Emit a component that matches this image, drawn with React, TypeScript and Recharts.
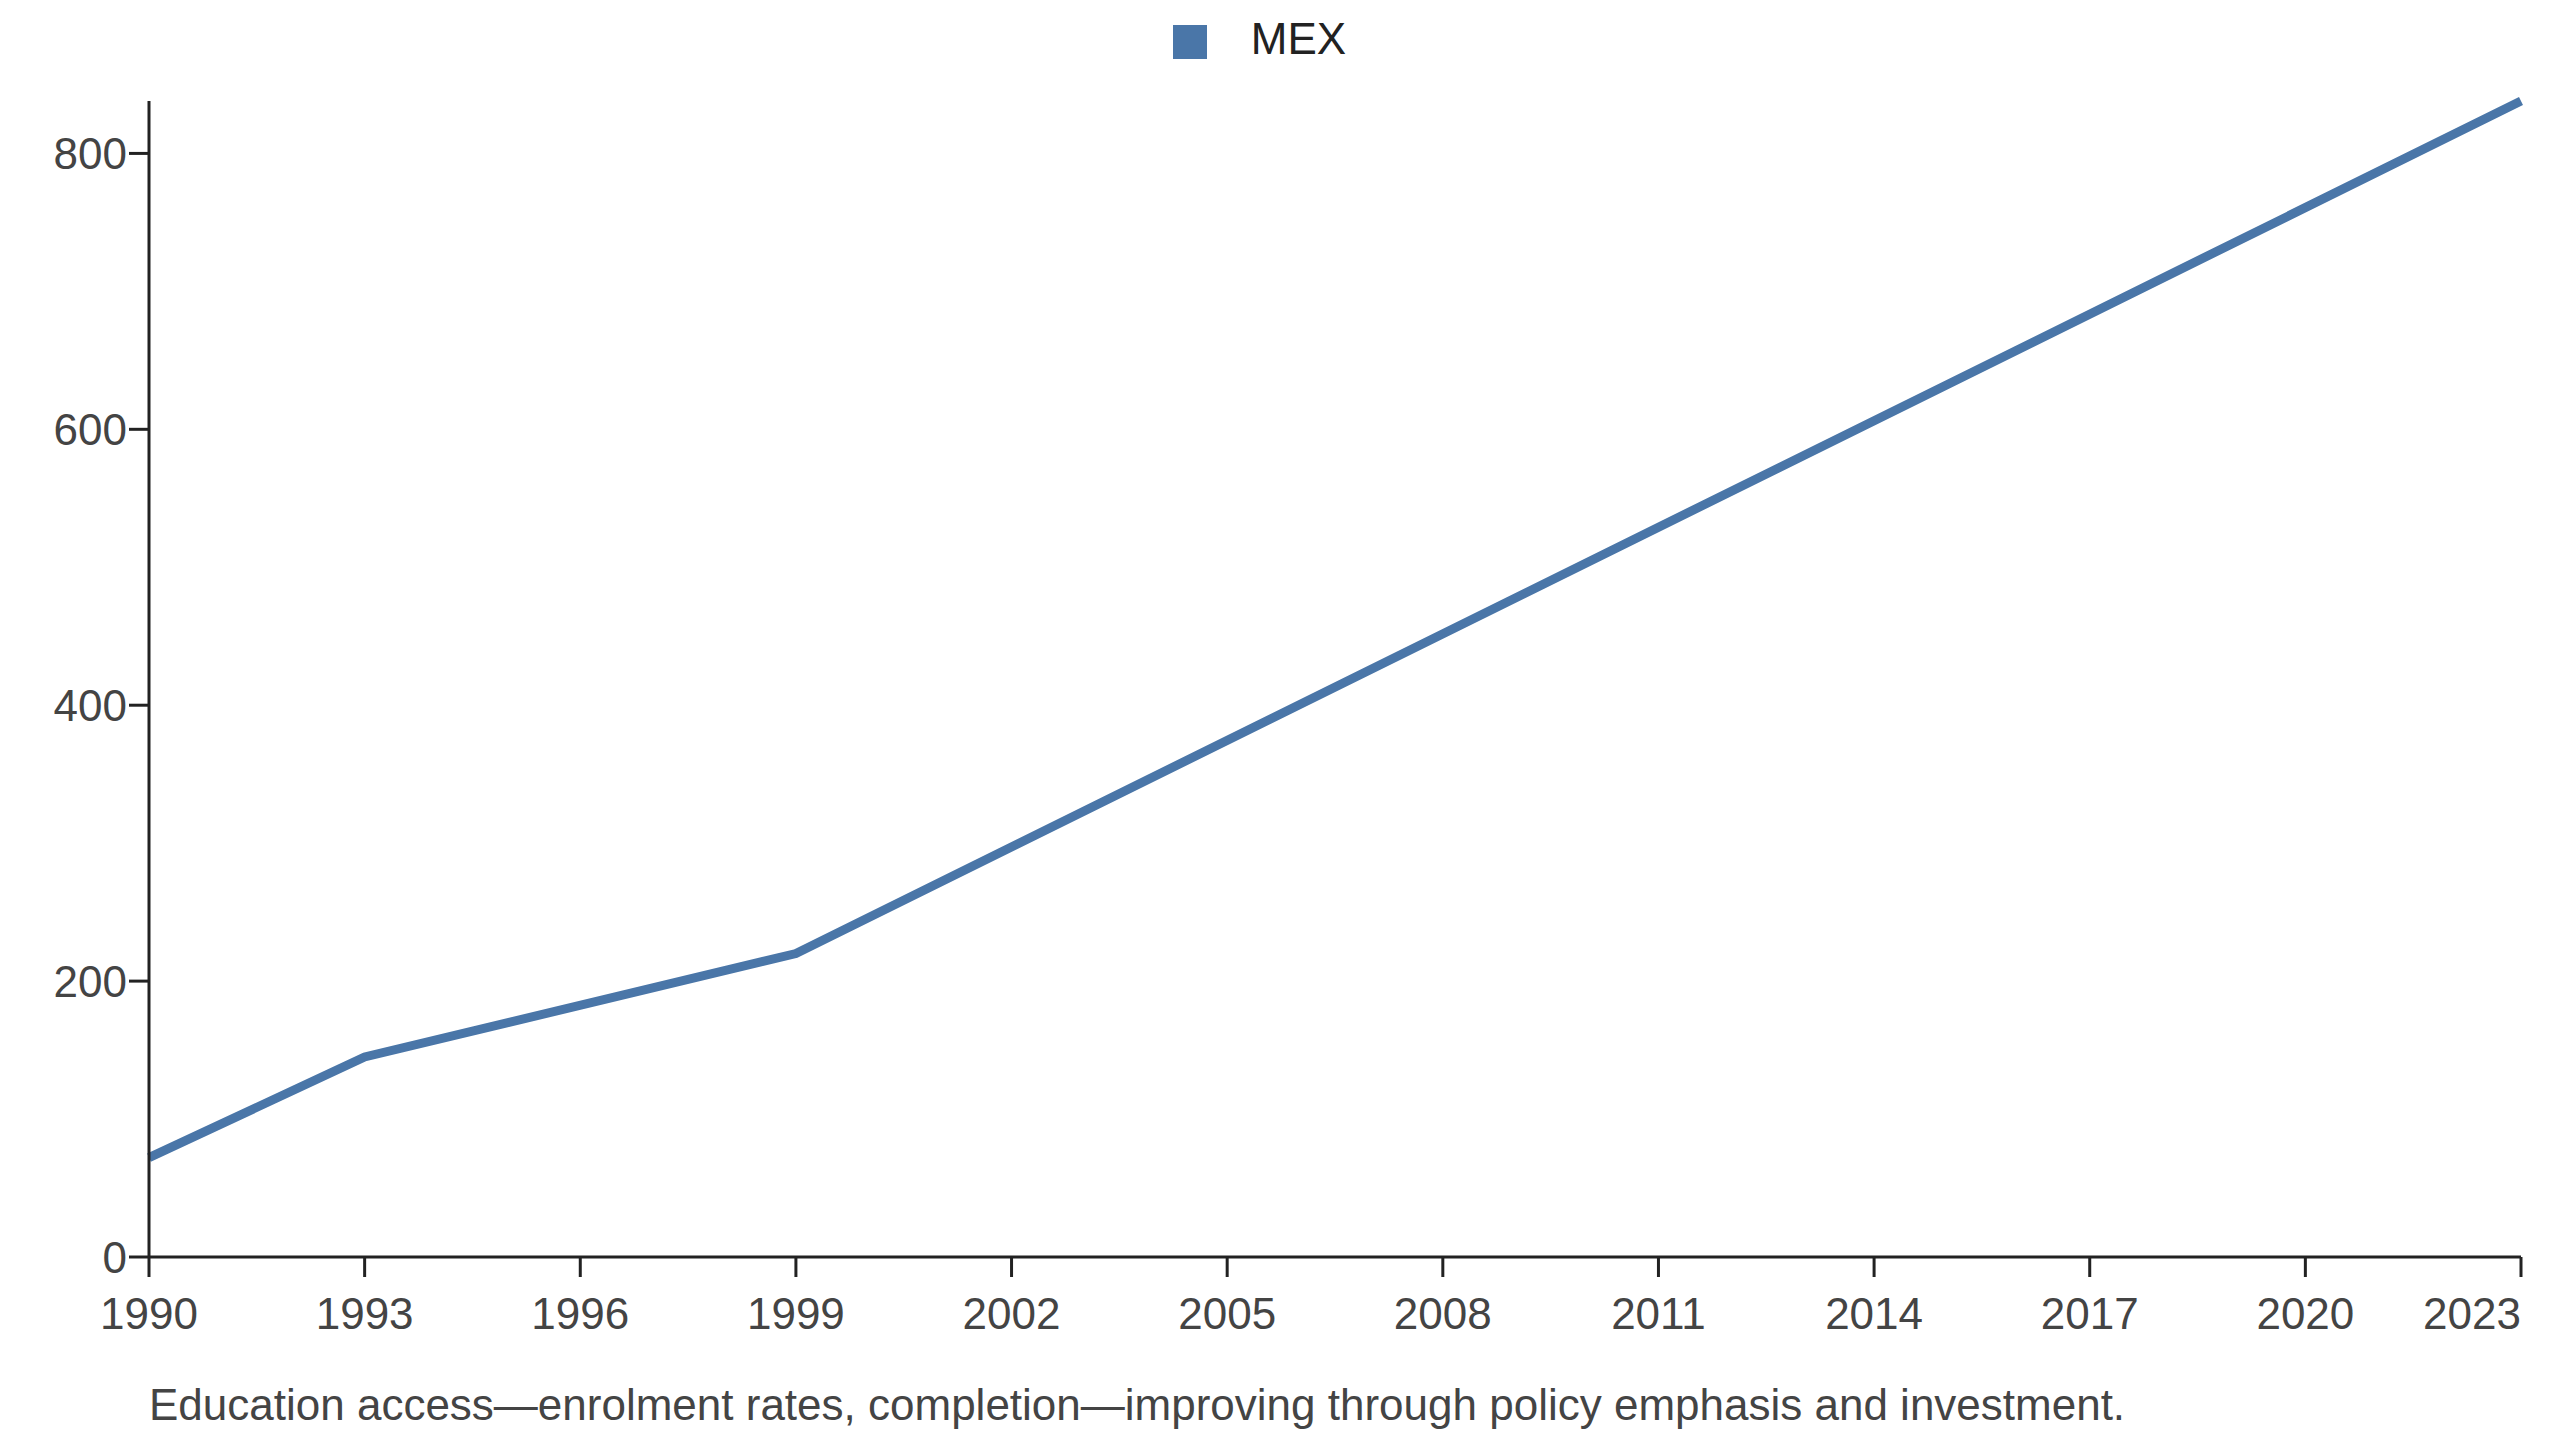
import React from "react";
import { LineChart, Line, XAxis, YAxis, Legend } from "recharts";

const years = [1990, 1993, 1999, 2023];
const mex = [72, 145, 220, 838];
const xTicks = [1990, 1993, 1996, 1999, 2002, 2005, 2008, 2011, 2014, 2017, 2020, 2023];
const yTicks = [0, 200, 400, 600, 800];
const caption = "Education access\u2014enrolment rates, completion\u2014improving through policy emphasis and investment.";

const data = years.map((y, i) => ({ year: y, MEX: mex[i] }));

const XTick = (props: any) => {
  const { x, y, payload } = props;
  const last = payload.value === xTicks[xTicks.length - 1];
  return (
    <text x={x} y={y} dy={50} textAnchor={last ? "end" : "middle"} fill="#444" fontSize={44}>
      {payload.value}
    </text>
  );
};

export default function App() {
  return (
    <div style={{ position: "relative", width: 2544, height: 1424, fontFamily: "Arial, 'Liberation Sans', sans-serif" }}>
      <LineChart width={2544} height={1424} data={data} margin={{ top: 43, right: 31, bottom: 145, left: 0 }}>
        <XAxis dataKey="year" type="number" domain={[1990, 2023]} ticks={xTicks}
          tick={<XTick />} tickSize={20} interval={0}
          axisLine={{ stroke: "#222", strokeWidth: 3 }} tickLine={{ stroke: "#222", strokeWidth: 3 }} />
        <YAxis type="number" domain={[0, 838]} ticks={yTicks} width={141}
          tick={{ fill: "#444", fontSize: 44 }} tickSize={20}
          axisLine={{ stroke: "#222", strokeWidth: 3 }} tickLine={{ stroke: "#222", strokeWidth: 3 }} />
        <Legend verticalAlign="top" align="center" iconType="square" iconSize={34}
          wrapperStyle={{ top: 6, fontSize: 44, color: "#222" }}
          formatter={(v) => <span style={{ color: "#222", marginLeft: 40 }}>{v}</span>} />
        <Line dataKey="MEX" stroke="#4a76a8" strokeWidth={9} dot={false} isAnimationActive={false} />
      </LineChart>
      <div style={{ position: "absolute", left: 141, top: 1372, fontSize: 44, color: "#444", whiteSpace: "nowrap" }}>{caption}</div>
    </div>
  );
}
